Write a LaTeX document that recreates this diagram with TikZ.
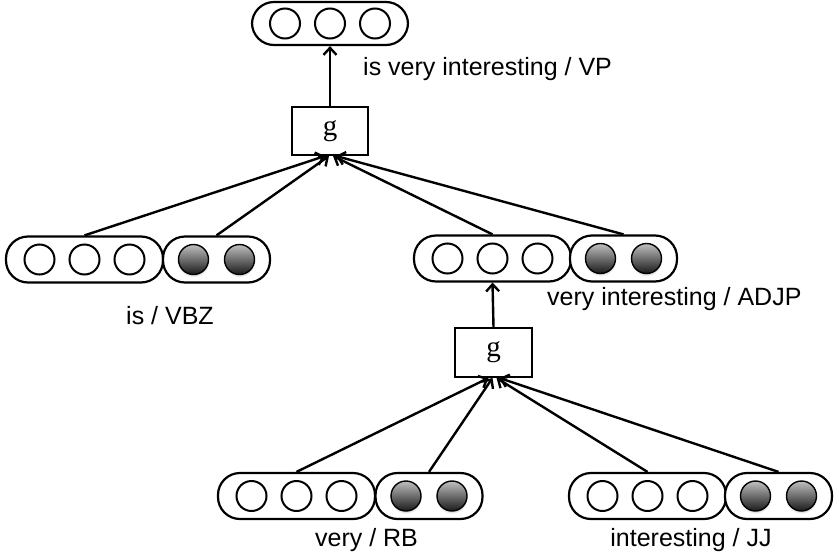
\documentclass[tikz,border=0pt]{standalone}
\usepackage{fontspec}
\setmainfont{Liberation Sans}
\newfontfamily\gfont{Liberation Serif}
\usetikzlibrary{arrows.meta,shadows}
\begin{document}
\begin{tikzpicture}[x=1pt,y=-1pt,
  vecbox/.style={draw,line width=2.2pt,rounded corners=22pt,minimum height=46pt,inner sep=0pt,fill=white},
  lightbox/.style={vecbox,minimum width=157pt},
  darkbox/.style={vecbox,minimum width=107pt},
  hollow/.style={circle,draw,line width=2pt,minimum size=30pt,inner sep=0pt},
  filled/.style={circle,draw=black,line width=1.4pt,minimum size=30pt,inner sep=0pt,
    top color=gray!50,bottom color=black!90,
    circular drop shadow={shadow xshift=0pt,shadow yshift=-2pt,opacity=0.25,shadow scale=1.05}},
  gbox/.style={draw,line width=2pt,minimum width=76pt,minimum height=48pt,inner sep=0pt,font=\gfont\fontsize{29}{32}\selectfont},
  lab/.style={font=\fontsize{25}{30}\selectfont,inner sep=0pt},
  conn/.style={line width=2.4pt,-{Straight Barb[length=7pt,width=13pt,line width=2.4pt]}}
]
\useasboundingbox (0,0) rectangle (836,557);

% top vector
\node[lightbox,minimum width=156pt,minimum height=43pt] (top) at (330,23.5) {};
\foreach \i/\dx in {1/-45,2/0,3/45}
  \node[hollow] (top\i) at ([xshift=\dx pt]top.center) {};

% g boxes
\node[gbox] (g1) at (330,131) {g};
\node[gbox,minimum width=77pt,minimum height=49pt] (g2) at (493.5,352.5) {g};

% middle left
\node[lightbox] (mlL) at (84.5,259.5) {};
\node[darkbox] (mlD) at (216.5,259.5) {};
% middle right
\node[lightbox] (mrL) at (492.5,258.5) {};
\node[darkbox] (mrD) at (623.5,258.5) {};
% bottom left
\node[lightbox] (blL) at (296.5,496) {};
\node[darkbox] (blD) at (429,496) {};
% bottom right
\node[lightbox] (brL) at (647.5,496) {};
\node[darkbox] (brD) at (778.5,496) {};

\foreach \b in {mlL,mrL,blL,brL}{
  \foreach \i/\dx in {1/-45,2/0,3/45}
    \node[hollow] (\b\i) at ([xshift=\dx pt]\b.center) {};
}
\foreach \b in {mlD,mrD,blD,brD}{
  \foreach \i/\dx in {1/-23,2/23}
    \node[filled] (\b\i) at ([xshift=\dx pt]\b.center) {};
}

% labels
\node[lab,anchor=west] (labVP) at (363,69) {is very interesting / VP};
\node[lab,anchor=west] (labVBZ) at (126,316) {is / VBZ};
\node[lab,anchor=west] (labADJP) at (547,299) {very interesting / ADJP};
\node[lab] (labRB) at (366.5,540) {very / RB};
\node[lab] (labJJ) at (691,540) {interesting / JJ};

% connectors
\draw[conn] (g1.north) -- (top.south);
\draw[conn] (g2.north) -- (mrL.south);
\draw[conn] (mlL.north) -- ([xshift=-5pt]g1.south);
\draw[conn] (mlD.north) -- ([xshift=-1pt]g1.south);
\draw[conn] (mrL.north) -- ([xshift=3pt]g1.south);
\draw[conn] (mrD.north) -- ([xshift=6pt]g1.south);
\draw[conn] (blL.north) -- ([xshift=-5pt]g2.south);
\draw[conn] (blD.north) -- ([xshift=-1pt]g2.south);
\draw[conn] (brL.north) -- ([xshift=3pt]g2.south);
\draw[conn] (brD.north) -- ([xshift=6pt]g2.south);
\end{tikzpicture}
\end{document}
